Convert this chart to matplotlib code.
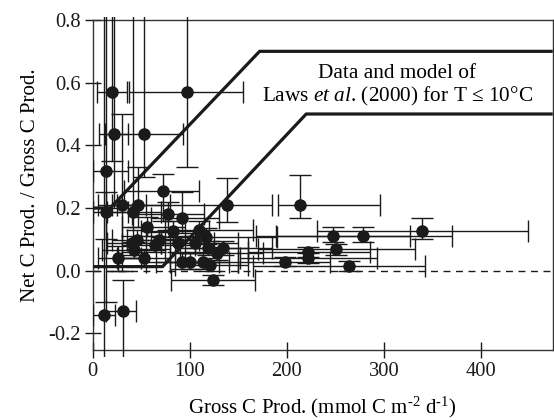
import matplotlib
matplotlib.use("Agg")
import matplotlib.pyplot as plt
import numpy as np
from matplotlib.patches import Rectangle
from matplotlib.ticker import FixedLocator, FuncFormatter

plt.rcParams['font.family'] = ['Liberation Serif', 'DejaVu Serif']
plt.rcParams['mathtext.fontset'] = 'custom'
plt.rcParams['mathtext.rm'] = 'Liberation Serif'
plt.rcParams['mathtext.it'] = 'Liberation Serif:italic'
plt.rcParams['axes.unicode_minus'] = False

# Gross production (mmol C m-2 d-1) and net/gross ratio, with absolute error bounds
gross = np.array([20, 97, 21.6, 53, 13.7, 72, 29.9, 47, 13.7, 41.9, 78, 92.4, 138,
                  55.7, 83, 110, 116.8, 40.2, 45.4, 42.9, 64.2, 68.7, 88.3, 105.5,
                  119.2, 134.7, 127.8, 26.4, 53.2, 91.7, 100.3, 114, 121, 124.3,
                  213.7, 247.4, 279, 339, 250.8, 221.6, 222.3, 198, 264, 11.6, 31])
ratio = np.array([0.57, 0.57, 0.435, 0.435, 0.317, 0.255, 0.21, 0.21, 0.188, 0.188,
                  0.181, 0.169, 0.21, 0.139, 0.128, 0.13, 0.109, 0.087, 0.098, 0.066,
                  0.082, 0.098, 0.087, 0.087, 0.071, 0.071, 0.055, 0.04, 0.04, 0.029,
                  0.029, 0.029, 0.018, -0.03, 0.21, 0.111, 0.111, 0.127, 0.068, 0.061,
                  0.04, 0.029, 0.016, -0.141, -0.129])
gross_lo = np.array([4, 37, 6, 13, 0, 32, 5, 20, 0, 15, 40, 60, 25,
                     30, 50, 75, 60, 15, 20, 10, 30, 35, 55, 70,
                     85, 95, 90, 5, 25, 55, 65, 80, 85, 81,
                     190.7, 168, 189, 231, 170, 160, 152, 150, 165, 0, 14])
gross_hi = np.array([35, 155, 36, 93, 36, 110, 55, 80, 36, 70, 115, 130, 185,
                     95, 120, 165, 190, 70, 80, 75, 105, 110, 125, 150,
                     160, 185, 175, 50, 80, 130, 140, 150, 160, 167,
                     296, 327, 370, 449, 332, 286, 293, 245, 342, 23, 45])
ratio_lo = np.array([0.35, 0.33, 0.2, 0.3, -0.1, 0.16, 0.0, 0.14, 0.1, 0.05,
                     0.13, 0.12, 0.156, 0.11, 0.10, 0.10, 0.085, 0.06, 0.07, 0.04,
                     0.06, 0.07, 0.06, 0.06, 0.05, 0.05, 0.035, 0.0, 0.015, 0.005,
                     0.005, 0.005, 0.0, -0.045, 0.167, 0.09, 0.09, 0.10, 0.05, 0.045,
                     0.025, 0.015, 0.0, -0.4, -0.4])
ratio_hi = np.array([0.9, 0.9, 0.9, 0.9, 0.9, 0.31, 0.5, 0.33, 0.25, 0.9,
                     0.22, 0.25, 0.295, 0.17, 0.16, 0.16, 0.135, 0.11, 0.13, 0.09,
                     0.11, 0.125, 0.11, 0.11, 0.095, 0.095, 0.075, 0.08, 0.065, 0.055,
                     0.055, 0.055, 0.04, -0.015, 0.305, 0.139, 0.139, 0.167, 0.085, 0.075,
                     0.055, 0.045, 0.03, 0.9, -0.03])

# Laws et al. (2000) model envelope, T <= 10 C
model_hi_x = [0, 18, 172, 474]
model_hi_y = [0.2, 0.2, 0.7, 0.7]
model_lo_x = [0, 72, 220, 474]
model_lo_y = [0.013, 0.013, 0.5, 0.5]

xlim = (0, 474)
ylim = (-0.253, 0.8)
xticks = [0, 100, 200, 300, 400]
yticks = [-0.2, 0.0, 0.2, 0.4, 0.6, 0.8]

fig = plt.figure(figsize=(5.54, 4.2), dpi=100)
ax = fig.add_axes([0.1673, 0.1667, 0.8304, 0.7857])

# slightly enlarged clip box so bars that run off-scale poke past the frame
clip = Rectangle((0, -0.02), 1, 1.03, transform=ax.transAxes, facecolor='none', edgecolor='none')

eb = ax.errorbar(gross, ratio,
                 xerr=[gross - gross_lo, gross_hi - gross],
                 yerr=[ratio - ratio_lo, ratio_hi - ratio],
                 fmt='o', color='#1a1a1a', ms=8, elinewidth=1.0, capsize=8,
                 capthick=1.0, zorder=3)
for art in eb.lines[1] + eb.lines[2]:
    art.set_clip_path(clip)
eb.lines[0].set_clip_path(clip)

ax.plot(model_hi_x, model_hi_y, color='#1a1a1a', lw=2.3, zorder=4, solid_capstyle='butt')
ax.plot(model_lo_x, model_lo_y, color='#1a1a1a', lw=2.3, zorder=4, solid_capstyle='butt')
ax.axhline(0.0, color='#1a1a1a', lw=1.0, ls=(0, (5, 4)), zorder=2)

ax.text(314, 0.59, "Data and model of\nLaws $\\it{et\\ al}$. (2000) for T \u2264 10\u00b0C",
        ha='center', va='center', fontsize=15.3, linespacing=1.1,
        bbox=dict(facecolor='white', edgecolor='none', pad=1), zorder=5)

ax.set_xlim(*xlim)
ax.set_ylim(*ylim)
ax.xaxis.set_major_locator(FixedLocator(xticks))
ax.yaxis.set_major_locator(FixedLocator(yticks))
ax.yaxis.set_major_formatter(FuncFormatter(lambda v, p: f"{v:.1f}"))
ax.tick_params(direction='inout', length=11, width=1.0, labelsize=14.8, colors='#1a1a1a')
ax.tick_params(axis='x', pad=3)
ax.tick_params(axis='y', pad=3)
for s in ax.spines.values():
    s.set_linewidth(1.0)
    s.set_color('#333333')

ax.set_xlabel("Gross C Prod. (mmol C m$^{\\text{-2}}$ d$^{\\text{-1}}$)",
              fontsize=15, labelpad=10)
ax.set_ylabel("Net C Prod. / Gross C Prod.", fontsize=15, labelpad=6)

fig.savefig("out.png", dpi=100)
